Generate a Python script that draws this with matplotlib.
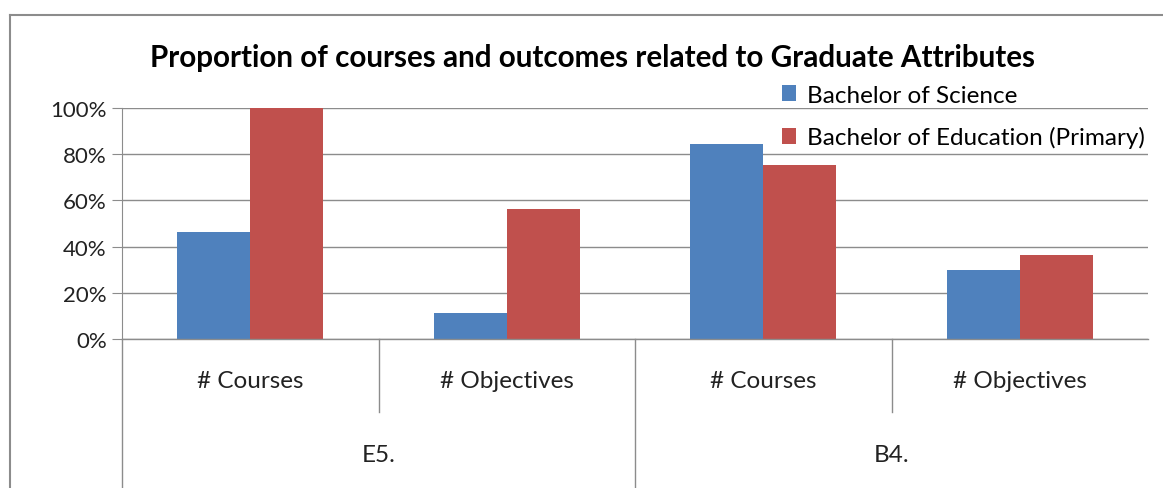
import numpy as np
import matplotlib
matplotlib.use("Agg")
from matplotlib import pyplot as plt
from matplotlib.lines import Line2D
from matplotlib.ticker import PercentFormatter
import matplotlib.transforms as mtransforms

plt.rcParams['font.family'] = ['Lato', 'DejaVu Sans']

# data
groups = ["E5.", "B4."]
categories = ["# Courses", "# Objectives", "# Courses", "# Objectives"]
series_names = ["Bachelor of Science", "Bachelor of Education (Primary)"]
science = [0.462, 0.113, 0.846, 0.298]
education = [1.0, 0.563, 0.753, 0.364]
colors = ["#4F81BD", "#C0504D"]

W, H = 1163, 489
fig = plt.figure(figsize=(W / 100, H / 100), dpi=100)
ax = fig.add_axes([122 / W, 1 - 340 / H, (1148 - 122) / W, (340 - 109) / H])

x = np.arange(len(categories))
bw = 0.285
b1 = ax.bar(x - bw / 2, science, bw, color=colors[0], label=series_names[0], zorder=3)
b2 = ax.bar(x + bw / 2, education, bw, color=colors[1], label=series_names[1], zorder=3)

ax.set_xlim(-0.5, len(categories) - 0.5)
ax.set_ylim(0, 1)
ax.set_yticks(np.arange(0, 1.01, 0.2))
ax.yaxis.set_major_formatter(PercentFormatter(1.0, decimals=0))
ax.grid(axis='y', color='#8c8c8c', lw=1, zorder=0)
for s in ['top', 'right', 'bottom']:
    ax.spines[s].set_visible(False)
ax.spines['left'].set_color('#8c8c8c')
ax.tick_params(axis='y', length=7, color='#8c8c8c', labelsize=16, pad=4, labelcolor='#222222')
ax.tick_params(axis='x', length=0, labelbottom=False)

# multi-level category axis
trans = mtransforms.blended_transform_factory(ax.transData, ax.transAxes)
ax.axhline(0, color='#8c8c8c', lw=1, zorder=4, clip_on=False)
row1 = -(382 - 340) / (340 - 109)
row2 = -(456 - 340) / (340 - 109)
inner_end = -(413 - 340) / (340 - 109)
bottom_end = -(489 - 340) / (340 - 109) - 0.05
for i, c in enumerate(categories):
    ax.text(i, row1, c, transform=trans, ha='center', va='center', fontsize=17.5, color='#222222')
per_group = len(categories) // len(groups)
for g, name in enumerate(groups):
    ax.text(g * per_group + (per_group - 1) / 2, row2, name, transform=trans,
            ha='center', va='center', fontsize=17.5, color='#222222')
for i in range(len(categories)):
    xs = i - 0.5
    end = bottom_end if i % per_group == 0 else inner_end
    ax.plot([xs, xs], [0, end], transform=trans, color='#8c8c8c', lw=1, clip_on=False)

fig.text(593 / W, 1 - 58 / H, "Proportion of courses and outcomes related to Graduate Attributes",
         fontsize=21.3, fontweight='bold', ha='center', va='center')

fig.legend(handles=[b1, b2], loc='upper left', bbox_to_anchor=(772 / W, 1 - 76 / H),
           frameon=False, fontsize=17.5, handlelength=0.6, handleheight=0.6,
           handletextpad=0.45, labelspacing=0.85, borderaxespad=0)

# outer chart frame
fig.add_artist(Line2D([10 / W, 10 / W], [0, 1 - 16 / H], color='#8c8c8c', lw=1.5))
fig.add_artist(Line2D([10 / W, 1], [1 - 16 / H, 1 - 16 / H], color='#8c8c8c', lw=1.5))

fig.savefig("out.png", dpi=100)
